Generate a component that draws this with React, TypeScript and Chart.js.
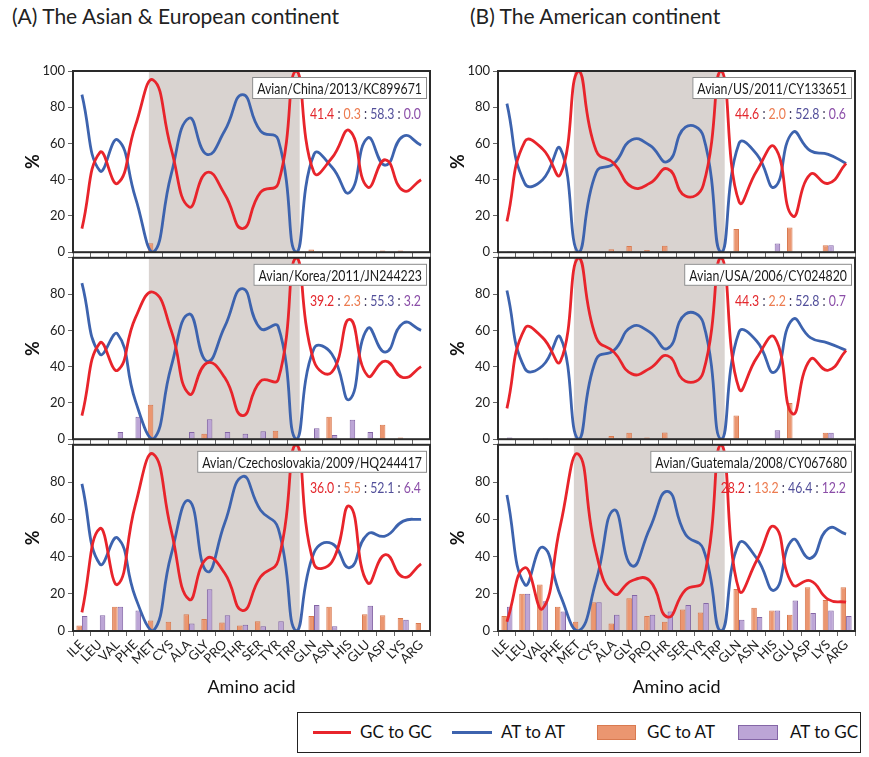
import React, { useEffect, useRef } from 'react';
import { Chart, registerables } from 'chart.js';

Chart.register(...registerables);

// ---------------- data ----------------
const aminoAcids = ['ILE', 'LEU', 'VAL', 'PHE', 'MET', 'CYS', 'ALA', 'GLY', 'PRO', 'THR', 'SER', 'TYR', 'TRP', 'GLN', 'ASN', 'HIS', 'GLU', 'ASP', 'LYS', 'ARG'];
const yTicks = [0, 20, 40, 60, 80, 100];
const seriesNames = ['GC to GC', 'AT to AT', 'GC to AT', 'AT to GC'];

// (A) China
const chinaGC = [13, 55, 38, 70, 95, 57, 25, 44, 32, 13, 33, 38, 100, 44, 52, 67, 36, 51, 34, 40];
const chinaAT = [87, 45, 62, 30, 0, 43, 74, 54, 67, 87, 67, 62, 0, 54, 47, 33, 63, 48, 64, 59];
const chinaGCtoAT = [0, 0, 0, 0, 5, 0, 0, 0, 0, 0, 0, 0, 0, 1.5, 0, 0, 0, 1, 1, 0];
const chinaATtoGC = [0, 0, 0, 0, 0, 0, 0, 0, 0, 0, 0, 0, 0, 0, 0, 0, 0, 0, 0, 0];
const chinaRatio = ['41.4', '0.3', '58.3', '0.0'];

// (A) Korea
const koreaGC = [13, 53, 38, 67, 81, 60, 25, 42, 34, 13, 32, 33, 100, 43, 37, 66, 35, 43, 34, 40];
const koreaAT = [86, 47, 58, 21, 0, 40, 69, 43, 62, 83, 61, 62, 0, 50, 47, 22, 61, 48, 64, 60];
const koreaGCtoAT = [0, 0, 0, 0, 19, 0, 0, 3, 0, 0, 0, 4.6, 0, 0, 12.4, 0, 0, 8, 1, 0];
const koreaATtoGC = [0, 0, 4, 12.4, 0, 0, 4, 11, 4, 3, 4.4, 0, 0, 6, 2.3, 10.7, 4, 0, 0, 0];
const koreaRatio = ['39.2', '2.3', '55.3', '3.2'];

// (A) Czechoslovakia
const czechGC = [10, 55, 25, 68, 95, 54, 17, 39, 31, 11, 29, 38, 100, 36, 37, 67, 26, 41, 29, 36];
const czechAT = [79, 36, 50, 18, 0, 41, 70, 32, 58, 83, 65, 55, 0, 42, 47, 34, 52, 51, 59, 60];
const czechGCtoAT = [3, 0, 13, 0, 5.7, 5, 9, 6.5, 4.5, 3, 5.2, 0, 0, 8, 13, 0, 9, 8.4, 7, 4.3];
const czechATtoGC = [8, 8.4, 13, 11, 0, 0, 4, 22.4, 8.4, 3.4, 2.5, 5.2, 0, 14, 2.5, 0, 13.5, 0, 6, 0];
const czechRatio = ['36.0', '5.5', '52.1', '6.4'];

// (B) US 2011
const usGC = [17, 61, 57, 43, 100, 56, 49, 36, 38, 46, 31, 37, 100, 28, 45, 58, 20, 43, 38, 49];
const usAT = [82, 38, 40, 57, 0, 44, 49, 62, 59, 50, 69, 64, 0, 60, 54, 36, 66, 56, 54, 49];
const usGCtoAT = [0, 0, 0, 0, 0, 0, 1.6, 3.4, 1.2, 3.6, 0, 0, 0, 12.8, 0, 0, 13.7, 0, 3.9, 0];
const usATtoGC = [0.5, 0, 0.5, 0, 0, 0, 0, 0, 0, 0, 0, 0, 0, 0, 0, 4.8, 0, 0, 3.9, 0];
const usRatio = ['44.6', '2.0', '52.8', '0.6'];

// (B) USA 2006
const usaGC = [17, 61, 56, 43, 100, 56, 48, 36, 39, 46, 32, 37, 100, 28, 45, 56, 14, 44, 38, 49];
const usaAT = [82, 39, 40.5, 56, 0, 44, 49, 62, 59, 50, 69, 64, 0, 59, 54, 37, 66, 56, 53, 49];
const usaGCtoAT = [0, 0, 0, 0, 0, 0, 1.8, 3.5, 1, 3.7, 0, 0, 0, 13, 0, 0, 20, 0, 3.6, 0];
const usaATtoGC = [1, 0, 0.5, 0, 0, 0, 0, 0, 0, 0, 0, 0, 0, 0, 0, 5, 0, 0, 3.6, 0];
const usaRatio = ['44.3', '2.2', '52.8', '0.7'];

// (B) Guatemala
const guatGC = [5, 34, 12, 57, 95, 42, 20, 27, 27, 7.5, 22, 27, 100, 22, 38, 56, 25, 27, 17, 15.5];
const guatAT = [73, 25, 45, 19, 0, 27, 65, 35, 55, 75, 52, 44, 0, 47, 39, 22, 49, 39, 55, 52];
const guatGCtoAT = [8, 20, 25, 13, 5, 15.5, 4, 17.6, 8, 5, 11.6, 10, 0, 22.6, 12.5, 11, 8.7, 23.5, 16.7, 23.5];
const guatATtoGC = [13, 20, 16, 10.5, 0, 15.5, 8.7, 19.4, 8.7, 10.5, 14, 15, 0, 6, 7.5, 11, 16.4, 9.6, 11, 8];
const guatRatio = ['28.2', '13.2', '46.4', '12.2'];

// shaded region (category index units)
const shadeFrom = 3.75;
const shadeTo = 12.2;

// ---------------- style ----------------
const FONT = "Lato, 'Noto Sans', 'DejaVu Sans', sans-serif";
const RED = '#e8242b';
const BLUE = '#3d63ae';
const ORANGE = '#eb9670';
const ORANGE_B = '#d97a50';
const PURPLE = '#bca5d6';
const PURPLE_B = '#8466a6';
const SHADE = '#d9d3d0';
const RATIO_COLORS = ['#e3262c', '#ec7b4f', '#524f9a', '#8b4ea8'];
const SEP_COLOR = '#3f3a5c';
const CONDENSE = 0.82;

const decorPlugin = {
  id: 'panelDecor',
  beforeDatasetsDraw(chart: any) {
    const { ctx, chartArea: a, scales } = chart;
    const x = scales.x;
    const x1 = x.getPixelForValue(shadeFrom);
    const x2 = x.getPixelForValue(shadeTo);
    ctx.save();
    ctx.fillStyle = SHADE;
    ctx.fillRect(x1, a.top, x2 - x1, a.bottom - a.top);
    ctx.restore();
  },
  afterDatasetsDraw(chart: any, _args: any, opts: any) {
    const { ctx, chartArea: a } = chart;
    ctx.save();
    // name box
    ctx.font = `15px ${FONT}`;
    const tw = ctx.measureText(opts.name).width * CONDENSE;
    const bw = tw + 10;
    const bh = 22;
    const bx = a.right - 3 - bw;
    const by = a.top + 6;
    ctx.fillStyle = '#ffffff';
    ctx.fillRect(bx, by, bw, bh);
    ctx.strokeStyle = '#8a8a8a';
    ctx.lineWidth = 1;
    ctx.strokeRect(bx + 0.5, by + 0.5, bw - 1, bh - 1);
    ctx.fillStyle = '#1a1a1a';
    ctx.textBaseline = 'middle';
    ctx.textAlign = 'left';
    ctx.save();
    ctx.translate(bx + 5, by + bh / 2 + 1);
    ctx.scale(CONDENSE, 1);
    ctx.fillText(opts.name, 0, 0);
    ctx.restore();
    // ratio text
    ctx.font = `15px ${FONT}`;
    const parts: { t: string; c: string }[] = [];
    opts.ratio.forEach((v: string, i: number) => {
      if (i > 0) parts.push({ t: ' : ', c: SEP_COLOR });
      parts.push({ t: v, c: RATIO_COLORS[i] });
    });
    const total = parts.reduce((s, p) => s + ctx.measureText(p.t).width, 0) * CONDENSE;
    const cy = a.top + 43;
    ctx.save();
    ctx.translate(a.right - 9 - total, cy);
    ctx.scale(CONDENSE, 1);
    let cx = 0;
    parts.forEach((p) => {
      ctx.fillStyle = p.c;
      ctx.fillText(p.t, cx, 0);
      cx += ctx.measureText(p.t).width;
    });
    ctx.restore();
    ctx.restore();
  },
  afterDraw(chart: any) {
    const { ctx, chartArea: a } = chart;
    ctx.save();
    ctx.strokeStyle = '#2a2a2a';
    ctx.lineWidth = 2;
    ctx.strokeRect(a.left, a.top, a.right - a.left, a.bottom - a.top);
    ctx.restore();
  },
};

type PanelProps = {
  name: string;
  gc: number[];
  at: number[];
  gcToAt: number[];
  atToGc: number[];
  ratio: string[];
  left: number;
  top: number;
  width: number;
  height: number;
  padTop: number;
  padRight: number;
  xHeight: number;
  showX: boolean;
  show100: boolean;
};

function Panel(p: PanelProps) {
  const ref = useRef<HTMLCanvasElement>(null);
  useEffect(() => {
    if (!ref.current) return;
    const chart = new Chart(ref.current, {
      type: 'bar',
      data: {
        labels: aminoAcids,
        datasets: [
          { type: 'line', label: seriesNames[0], data: p.gc, borderColor: RED, borderWidth: 2.8, pointRadius: 0, tension: 0.5, fill: false, order: 0 } as any,
          { type: 'line', label: seriesNames[1], data: p.at, borderColor: BLUE, borderWidth: 2.8, pointRadius: 0, tension: 0.5, fill: false, order: 1 } as any,
          { type: 'bar', label: seriesNames[2], data: p.gcToAt, backgroundColor: ORANGE, borderColor: ORANGE_B, borderWidth: 1, categoryPercentage: 0.62, barPercentage: 1, order: 2 } as any,
          { type: 'bar', label: seriesNames[3], data: p.atToGc, backgroundColor: PURPLE, borderColor: PURPLE_B, borderWidth: 1, categoryPercentage: 0.62, barPercentage: 1, order: 3 } as any,
        ],
      },
      options: {
        animation: false,
        responsive: false,
        events: [],
        layout: { padding: { top: p.padTop, right: p.padRight, left: 0, bottom: 0 } },
        plugins: {
          legend: { display: false },
          tooltip: { enabled: false },
          panelDecor: { name: p.name, ratio: p.ratio },
        } as any,
        scales: {
          x: {
            type: 'category',
            offset: true,
            grid: { display: true, drawOnChartArea: false, drawTicks: true, tickLength: 5, color: '#666', offset: true },
            border: { display: false },
            ticks: { display: p.showX, autoSkip: false, maxRotation: 45, minRotation: 45, font: { size: 13, family: FONT }, color: '#222', padding: 1 },
            title: { display: p.showX, text: 'Amino acid', font: { size: 18, family: FONT }, color: '#111', padding: { top: 0, bottom: 2 } },
            afterFit: (s: any) => { s.height = p.xHeight; },
          } as any,
          y: {
            min: 0,
            max: 100,
            afterBuildTicks: (s: any) => { s.ticks = yTicks.map((v) => ({ value: v })); },
            ticks: {
              callback: (v: any) => (!p.show100 && v === 100 ? '' : String(v)),
              font: { size: 13, family: FONT },
              color: '#222',
              padding: 3,
            },
            grid: { drawOnChartArea: false, drawTicks: true, tickLength: 5, color: '#666' },
            border: { display: false },
            title: { display: true, text: '%', font: { size: 18, weight: 'bold', family: FONT }, color: '#111', padding: { top: 22, bottom: 0 } },
            afterFit: (s: any) => { s.width = 73; },
          } as any,
        },
      },
      plugins: [decorPlugin as any],
    });
    return () => chart.destroy();
  }, []);
  return (
    <canvas
      ref={ref}
      width={p.width}
      height={p.height}
      style={{ position: 'absolute', left: p.left, top: p.top, width: p.width, height: p.height }}
    />
  );
}

const leftCol = { left: 0, width: 440, padRight: 10 };
const rightCol = { left: 425, width: 444, padRight: 14 };
const rows = [
  { top: 60, height: 203, padTop: 11, xHeight: 6, showX: false, show100: true },
  { top: 247, height: 203, padTop: 10, xHeight: 6, showX: false, show100: false },
  { top: 434, height: 266, padTop: 10, xHeight: 69, showX: true, show100: false },
];

export default function App() {
  const legendText: React.CSSProperties = { position: 'absolute', top: 8, fontSize: 17, color: '#111', whiteSpace: 'nowrap' };
  return (
    <div style={{ position: 'absolute', left: 0, top: 0, width: 869, height: 757, background: '#fff', fontFamily: FONT, overflow: 'hidden' }}>
      <div style={{ position: 'absolute', left: 12, top: 3, fontSize: 21, color: '#222', whiteSpace: 'nowrap' }}>(A) The Asian &amp; European continent</div>
      <div style={{ position: 'absolute', left: 470, top: 3, fontSize: 21, color: '#222', whiteSpace: 'nowrap' }}>(B) The American continent</div>

      <Panel name="Avian/China/2013/KC899671" gc={chinaGC} at={chinaAT} gcToAt={chinaGCtoAT} atToGc={chinaATtoGC} ratio={chinaRatio} {...leftCol} {...rows[0]} />
      <Panel name="Avian/Korea/2011/JN244223" gc={koreaGC} at={koreaAT} gcToAt={koreaGCtoAT} atToGc={koreaATtoGC} ratio={koreaRatio} {...leftCol} {...rows[1]} />
      <Panel name="Avian/Czechoslovakia/2009/HQ244417" gc={czechGC} at={czechAT} gcToAt={czechGCtoAT} atToGc={czechATtoGC} ratio={czechRatio} {...leftCol} {...rows[2]} />

      <Panel name="Avian/US/2011/CY133651" gc={usGC} at={usAT} gcToAt={usGCtoAT} atToGc={usATtoGC} ratio={usRatio} {...rightCol} {...rows[0]} />
      <Panel name="Avian/USA/2006/CY024820" gc={usaGC} at={usaAT} gcToAt={usaGCtoAT} atToGc={usaATtoGC} ratio={usaRatio} {...rightCol} {...rows[1]} />
      <Panel name="Avian/Guatemala/2008/CY067680" gc={guatGC} at={guatAT} gcToAt={guatGCtoAT} atToGc={guatATtoGC} ratio={guatRatio} {...rightCol} {...rows[2]} />

      <div style={{ position: 'absolute', left: 297, top: 712, width: 564, height: 41, border: '1.5px solid #222', boxSizing: 'border-box' }}>
        <div style={{ position: 'absolute', left: 15, top: 18, width: 38, height: 3, background: RED }} />
        <div style={{ ...legendText, left: 62 }}>{seriesNames[0]}</div>
        <div style={{ position: 'absolute', left: 154, top: 18, width: 40, height: 3, background: BLUE }} />
        <div style={{ ...legendText, left: 203 }}>{seriesNames[1]}</div>
        <div style={{ position: 'absolute', left: 299, top: 12, width: 39, height: 15, background: ORANGE, border: `1px solid ${ORANGE_B}`, boxSizing: 'border-box' }} />
        <div style={{ ...legendText, left: 349 }}>{seriesNames[2]}</div>
        <div style={{ position: 'absolute', left: 440, top: 12, width: 40, height: 15, background: PURPLE, border: `1px solid ${PURPLE_B}`, boxSizing: 'border-box' }} />
        <div style={{ ...legendText, left: 492 }}>{seriesNames[3]}</div>
      </div>
    </div>
  );
}
